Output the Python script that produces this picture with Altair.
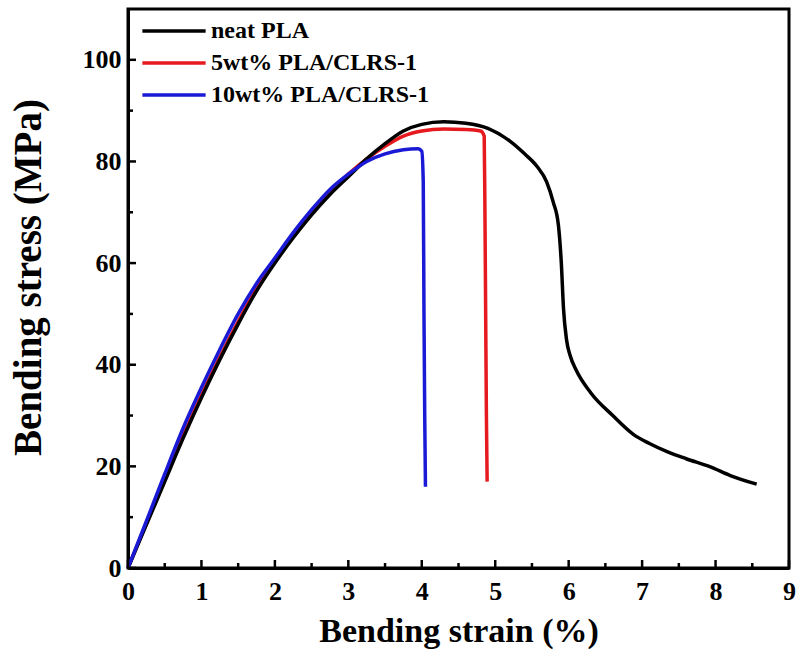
import altair as alt
import pandas as pd

# ---- data ----
neat_x = [0, 0.25, 0.5, 0.75, 1.0, 1.25, 1.5, 1.75, 2.0, 2.25, 2.5, 2.75, 3.0, 3.25, 3.5, 3.75, 4.0, 4.3, 4.6, 4.9,
          5.2, 5.4, 5.57, 5.7, 5.79, 5.86, 5.90, 5.93, 5.97, 6.02, 6.1, 6.3, 6.6, 6.88, 7.1, 7.34, 7.6, 7.93, 8.2, 8.56]
neat_y = [0, 8.5, 17, 25.5, 33.5, 41, 48, 54.5, 60, 65, 69.5, 73.5, 77, 80.5, 83.5, 86, 87.3, 87.8, 87.5, 86.5,
          84, 81.5, 79, 76, 72, 67.5, 60, 51, 45, 41.8, 39, 34.5, 30, 26.3, 24.5, 22.9, 21.5, 19.9, 18.2, 16.5]

w5_x = [0, 0.25, 0.5, 0.75, 1.0, 1.25, 1.5, 1.75, 2.0, 2.25, 2.5, 2.75, 3.0, 3.25, 3.5, 3.75, 4.0, 4.3, 4.6, 4.8,
        4.85, 4.86, 4.87, 4.88, 4.89]
w5_y = [0, 8.8, 17.5, 26, 34, 41.5, 48.5, 55, 60.5, 65.5, 70, 74, 77.5, 80.5, 83, 85, 86, 86.4, 86.3, 86,
        85, 70, 50, 30, 17]

w10_x = [0, 0.25, 0.5, 0.75, 1.0, 1.25, 1.5, 1.75, 2.0, 2.25, 2.5, 2.75, 3.0, 3.25, 3.5, 3.75, 3.95, 4.0, 4.02,
         4.03, 4.04, 4.05]
w10_y = [0, 9.2, 18.5, 27.5, 35.5, 43, 50, 56, 61, 66, 70.5, 74.5, 77.5, 80, 81.5, 82.3, 82.5, 82, 76, 50, 30, 16]

series_names = ["neat PLA", "5wt% PLA/CLRS-1", "10wt% PLA/CLRS-1"]
series_colors = ["#000000", "#e6191e", "#1a1ad6"]

x_major = [0, 1, 2, 3, 4, 5, 6, 7, 8, 9]
x_minor = [0.5, 1.5, 2.5, 3.5, 4.5, 5.5, 6.5, 7.5, 8.5]
y_major = [0, 20, 40, 60, 80, 100]
y_minor = [10, 30, 50, 70, 90]

# ---- build table (draw order: red, black, blue) ----
rows = []
for name, xs, ys, draw in [(series_names[1], w5_x, w5_y, 0),
                           (series_names[0], neat_x, neat_y, 1),
                           (series_names[2], w10_x, w10_y, 2)]:
    for i, (xv, yv) in enumerate(zip(xs, ys)):
        rows.append({"series": name, "strain": xv, "stress": yv, "idx": i, "draw": draw})
df = pd.DataFrame(rows)

W, H = 661, 559
FONT = "Liberation Serif"

xscale = alt.Scale(domain=[0, 9], nice=False, zero=False)
yscale = alt.Scale(domain=[0, 110], nice=False, zero=False)

xaxis = alt.Axis(title="Bending strain (%)", values=x_major, ticks=False, grid=False, labelFlush=False,
                 labelFont=FONT, labelFontSize=26, labelFontWeight="bold", labelColor="black",
                 labelPadding=10, domainColor="black", domainWidth=3,
                 titleFont=FONT, titleFontSize=34, titleFontWeight="bold", titleColor="black",
                 titlePadding=10)
yaxis = alt.Axis(title="Bending stress (MPa)", values=y_major, ticks=False, grid=False, labelFlush=False,
                 labelFont=FONT, labelFontSize=26, labelFontWeight="bold", labelColor="black",
                 labelPadding=7, domainColor="black", domainWidth=3,
                 titleFont=FONT, titleFontSize=39, titleFontWeight="bold", titleColor="black",
                 titlePadding=34, titleY=268)

lines = alt.Chart(df).mark_line(strokeWidth=3.5, interpolate="monotone").encode(
    x=alt.X("strain:Q", scale=xscale, axis=xaxis),
    y=alt.Y("stress:Q", scale=yscale, axis=yaxis),
    color=alt.Color("series:N",
                    scale=alt.Scale(domain=series_names, range=series_colors),
                    legend=alt.Legend(title=None, orient="none", legendX=28, legendY=4,
                                      symbolType="M-2,0L2,0", symbolSize=1000, symbolStrokeWidth=3.5,
                                      labelFont=FONT, labelFontSize=24, labelFontWeight="bold",
                                      labelColor="black", labelOffset=19, rowPadding=2,
                                      labelLimit=400)),
    detail="draw:N",
    order="idx:Q",
)

xt_major = pd.DataFrame({"strain": x_major})
xt_minor = pd.DataFrame({"strain": x_minor})
yt_major = pd.DataFrame({"stress": y_major})
yt_minor = pd.DataFrame({"stress": y_minor})

def xticks(d, ln):
    return alt.Chart(d).mark_rule(color="black", strokeWidth=2.5).encode(
        x=alt.X("strain:Q", scale=xscale, axis=xaxis),
        y=alt.value(H), y2=alt.value(H - ln))

def yticks(d, ln):
    return alt.Chart(d).mark_rule(color="black", strokeWidth=2.5).encode(
        y=alt.Y("stress:Q", scale=yscale, axis=yaxis),
        x=alt.value(0), x2=alt.value(ln))

chart = alt.layer(
    lines,
    xticks(xt_major, 8), xticks(xt_minor, 5),
    yticks(yt_major, 8), yticks(yt_minor, 5),
).properties(
    width=W, height=H,
    autosize=alt.AutoSizeParams(type="none"),
    padding={"left": 128, "top": 9, "right": 10, "bottom": 92},
    background="white",
).configure_view(stroke="black", strokeWidth=3)

chart.save("out.html", embed_options={"renderer": "svg", "actions": False})
